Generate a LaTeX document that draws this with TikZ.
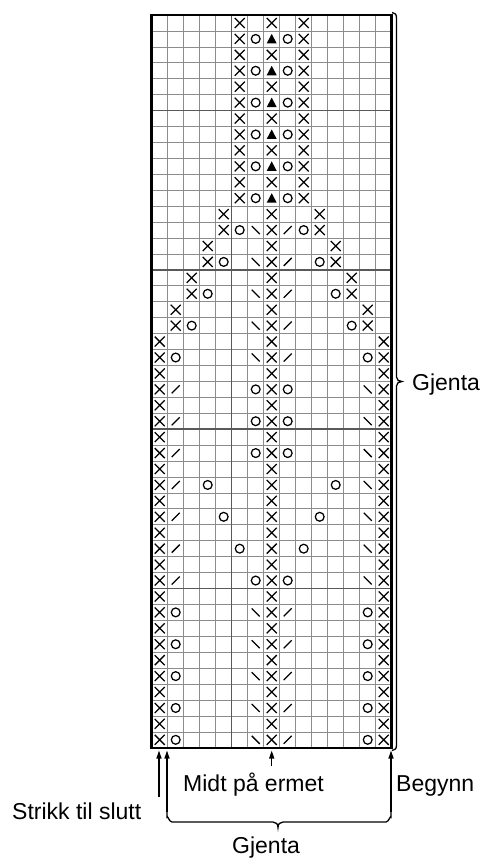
\documentclass[tikz,border=0pt]{standalone}
\usepackage{fontspec}
\setmainfont{Liberation Sans}
\usetikzlibrary{arrows.meta}
\newcommand\kX[2]{\draw[sym] ({159.7+16*(#1)-5},{22.97+15.93*(#2)-5}) -- ++(10,10) ({159.7+16*(#1)+5},{22.97+15.93*(#2)-5}) -- ++(-10,10);}
\newcommand\kO[2]{\draw[sym] ({159.7+16*(#1)},{22.97+15.93*(#2)}) circle[radius=4.4];}
\newcommand\kT[2]{\fill ({159.7+16*(#1)},{22.97+15.93*(#2)-5}) -- ++(5,9.5) -- ++(-10,0) -- cycle;}
\newcommand\kL[2]{\draw[sym] ({159.7+16*(#1)-4},{22.97+15.93*(#2)-4}) -- ++(8,8);}
\newcommand\kR[2]{\draw[sym] ({159.7+16*(#1)-4},{22.97+15.93*(#2)+4}) -- ++(8,-8);}
\begin{document}
\begin{tikzpicture}[x=1pt,y=-1pt,
  gridline/.style={draw=black!45,line width=0.7pt},
  tenline/.style={draw=black!65,line width=1.5pt},
  sym/.style={draw=black,line width=1.25pt},
  conn/.style={draw=black,line width=1.3pt},
  tip/.style={-{Triangle[length=8pt,width=5pt]}},
  lbl/.style={font=\fontsize{23}{27}\selectfont,inner sep=0pt,anchor=base west}]
\useasboundingbox (0,0) rectangle (484,859);
% grid
\foreach \i in {1,...,14} \draw[gridline] ({151.7+16*\i},15) -- ({151.7+16*\i},747.8);
\foreach \j in {1,...,45} \draw[gridline] (151.7,{15+15.93*\j}) -- (391.7,{15+15.93*\j});
\draw[tenline] ({151.7+16*5},15) -- ({151.7+16*5},747.8);
\foreach \j in {6,16,26,36} \draw[tenline] (151.7,{15+15.93*\j}) -- (391.7,{15+15.93*\j});
% symbols: top section
\foreach \r in {0,...,11} {\kX{5}{\r}\kX{9}{\r}}
\foreach \r in {0,2,...,10} {\kX{7}{\r}}
\foreach \r in {1,3,...,11} {\kO{6}{\r}\kT{7}{\r}\kO{8}{\r}}
% widening section
\foreach \k in {0,...,4} {
  \pgfmathtruncatemacro\ra{12+2*\k}
  \pgfmathtruncatemacro\rb{13+2*\k}
  \pgfmathtruncatemacro\ca{4-\k}
  \pgfmathtruncatemacro\cb{10+\k}
  \pgfmathtruncatemacro\oa{5-\k}
  \pgfmathtruncatemacro\ob{9+\k}
  \kX{\ca}{\ra}\kX{7}{\ra}\kX{\cb}{\ra}
  \kX{\ca}{\rb}\kX{7}{\rb}\kX{\cb}{\rb}
  \kO{\oa}{\rb}\kO{\ob}{\rb}\kL{6}{\rb}\kR{8}{\rb}
}
% lower section
\foreach \r in {22,...,45} {\kX{0}{\r}\kX{7}{\r}\kX{14}{\r}}
\foreach \r/\a/\b in {23/6/8,25/6/8,27/6/8,29/3/11,31/4/10,33/5/9,35/6/8} {\kR{1}{\r}\kO{\a}{\r}\kO{\b}{\r}\kL{13}{\r}}
\foreach \r in {37,39,...,45} {\kO{1}{\r}\kL{6}{\r}\kR{8}{\r}\kO{13}{\r}}
% border
\draw[line width=2.6pt] (151.7,15) rectangle (391.7,747.8);
% named points
\coordinate (a1top) at (159,750.5);
\coordinate (a1bot) at (159,797);
\coordinate (a2top) at (167,750.5);
\coordinate (a2bot) at (167,812);
\coordinate (mtop) at (271.7,750.5);
\coordinate (mbot) at (271.7,766);
\coordinate (btop) at (391,750.5);
\coordinate (bbot) at (391,812);
% arrows
\draw[conn,tip] (a1bot) -- (a1top);
\draw[conn,tip] (a2bot) -- (a2top);
\draw[conn,tip] (mbot) -- (mtop);
\draw[conn,tip] (bbot) -- (btop);
% bottom brace
\draw[conn] (a2bot) -- (167,817) to[out=90,in=180] (172,822) -- (273,822)
  .. controls (276,822) and (278,824) .. (278,827.5)
  .. controls (278,824) and (280,822) .. (283,822) -- (386,822)
  to[out=0,in=90] (391,817) -- (bbot);
% right brace
\draw[conn] (392,12.5) .. controls (395,12.5) and (396.5,14.5) .. (396.5,18) -- (396.5,377)
  .. controls (396.5,380) and (399,381.5) .. (402,381.5)
  .. controls (399,381.5) and (396.5,383) .. (396.5,386) -- (396.5,745)
  .. controls (396.5,748.5) and (395,750.5) .. (392,750.5);
% labels
\node[lbl] (strikk) at (12,819) {Strikk til slutt};
\node[lbl] (midt) at (183,791) {Midt på ermet};
\node[lbl] (begynn) at (396,791) {Begynn};
\node[lbl] (gjb) at (232,853) {Gjenta};
\node[lbl] (gjr) at (412,390) {Gjenta};
\end{tikzpicture}
\end{document}
